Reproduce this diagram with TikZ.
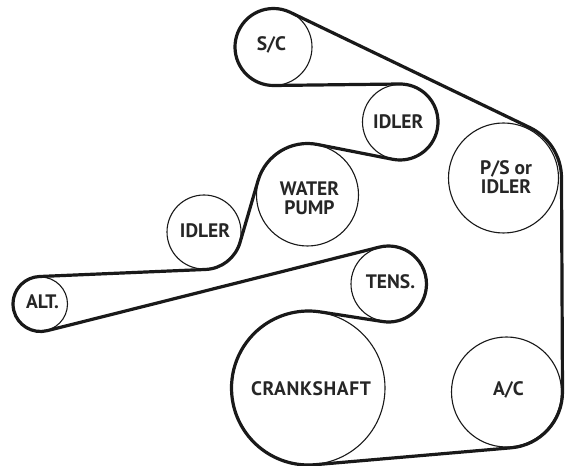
\documentclass[tikz,border=0pt]{standalone}
\usepackage{fontspec}
\setmainfont{PT Sans}
\usetikzlibrary{calc}
\tikzset{
  pulley/.style={circle,draw=black!90,line width=1.1pt,inner sep=0pt},
  plabel/.style={inner sep=0pt,align=center,font=\fontsize{19.5}{19}\selectfont\bfseries,text=black!85},
  belt/.style={draw=black!90,line width=3.2pt,line join=round}
}
% contact angle of the belt run between two pulleys; signed radii: + clockwise, - counter-clockwise
\newcommand\runangle[7]{%
  \pgfmathsetmacro\tmpd{veclen(#4-#1,#5-#2)}%
  \pgfmathsetmacro\tmpn{atan2(#5-#2,#4-#1)+asin((#6-#3)/\tmpd)+90}%
  \expandafter\xdef\csname #7\endcsname{\tmpn}}
\begin{document}
\begin{tikzpicture}[x=1pt,y=1pt]
\useasboundingbox (0,0) rectangle (566,466);
% centre x, centre y (up), signed belt radius
\def\SCx{273.5}\def\SCy{419}\def\SCs{38.5}
\def\PSx{505.5}\def\PSy{288}\def\PSs{56}
\def\ACx{506.5}\def\ACy{74}\def\ACs{56}
\def\CRx{308.5}\def\CRy{78}\def\CRs{77}
\def\TEx{388.5}\def\TEy{182}\def\TEs{-38}
\def\ALx{40.5}\def\ALy{162}\def\ALs{27.5}
\def\IAx{204}\def\IAy{234}\def\IAs{-37.5}
\def\WPx{307.5}\def\WPy{271}\def\WPs{51.5}
\def\IBx{400}\def\IBy{344}\def\IBs{-38}
\node[pulley,minimum size=77pt,label={[plabel,shift={(-2pt,2pt)}]center:S/C}] (sc) at (\SCx,\SCy) {};
\node[pulley,minimum size=110pt,label={[plabel,shift={(2.5pt,1pt)}]center:P/S or\\IDLER}] (ps) at (503.5,288) {};
\coordinate (psb) at (\PSx,\PSy);
\node[pulley,minimum size=110pt,label={[plabel,shift={(2pt,2.5pt)}]center:A/C}] (ac) at (\ACx,\ACy) {};
\node[pulley,minimum size=153pt,label={[plabel,shift={(2.5pt,-1pt)}]center:\addfontfeature{LetterSpace=3}CRANKSHAFT}] (cr) at (\CRx,\CRy) {};
\node[pulley,minimum size=75pt,label={[plabel,shift={(2pt,2pt)}]center:TENS.}] (te) at (\TEx,\TEy) {};
\node[pulley,minimum size=54pt,label={[plabel,shift={(2pt,2.3pt)}]center:ALT.}] (al) at (\ALx,\ALy) {};
\node[pulley,minimum size=74pt,label={[plabel,shift={(1pt,1.5pt)}]center:IDLER}] (ia) at (\IAx,\IAy) {};
\node[pulley,minimum size=102pt,label={[plabel,shift={(2pt,-3.3pt)}]center:WATER\\PUMP}] (wp) at (\WPx,\WPy) {};
\node[pulley,minimum size=75pt,label={[plabel,shift={(-1.7pt,0pt)}]center:IDLER}] (ib) at (\IBx,\IBy) {};
% normal angle of each straight run
\runangle{\SCx}{\SCy}{\SCs}{\PSx}{\PSy}{\PSs}{na}
\runangle{\PSx}{\PSy}{\PSs}{\ACx}{\ACy}{\ACs}{nb}
\runangle{\ACx}{\ACy}{\ACs}{\CRx}{\CRy}{\CRs}{nc}
\runangle{\CRx}{\CRy}{\CRs}{\TEx}{\TEy}{\TEs}{nd}
\runangle{\TEx}{\TEy}{\TEs}{\ALx}{\ALy}{\ALs}{ne}
\runangle{\ALx}{\ALy}{\ALs}{\IAx}{\IAy}{\IAs}{nf}
\runangle{\IAx}{\IAy}{\IAs}{\WPx}{\WPy}{\WPs}{ng}
\runangle{\WPx}{\WPy}{\WPs}{\IBx}{\IBy}{\IBs}{nh}
\runangle{\IBx}{\IBy}{\IBs}{\SCx}{\SCy}{\SCs}{ni}
% each wrap: from angle of incoming run to angle of outgoing run
\pgfmathsetmacro\psE{\na-mod(\na-\nb+720,360)}
\pgfmathsetmacro\acE{\nb-mod(\nb-\nc+720,360)}
\pgfmathsetmacro\crE{\nc-mod(\nc-\nd+720,360)}
\pgfmathsetmacro\teE{\nd+mod(\ne-\nd+720,360)}
\pgfmathsetmacro\alE{\ne-mod(\ne-\nf+720,360)}
\pgfmathsetmacro\iaE{\nf+mod(\ng-\nf+720,360)}
\pgfmathsetmacro\wpE{\ng-mod(\ng-\nh+720,360)}
\pgfmathsetmacro\ibE{\nh+mod(\ni-\nh+720,360)}
\pgfmathsetmacro\scE{\ni-mod(\ni-\na+720,360)}
\draw[belt]
  ($(sc)+(\na:\SCs)$) -- ($(psb)+(\na:\PSs)$)
  arc[start angle=\na,end angle=\psE,radius=\PSs]
  -- ($(ac)+(\nb:\ACs)$)
  arc[start angle=\nb,end angle=\acE,radius=\ACs]
  -- ($(cr)+(\nc:\CRs)$)
  arc[start angle=\nc,end angle=\crE,radius=\CRs]
  -- ($(te)+(\nd+180:-\TEs)$)
  arc[start angle=\nd+180,end angle=\teE+180,radius=-\TEs]
  -- ($(al)+(\ne:\ALs)$)
  arc[start angle=\ne,end angle=\alE,radius=\ALs]
  -- ($(ia)+(\nf+180:-\IAs)$)
  arc[start angle=\nf+180,end angle=\iaE+180,radius=-\IAs]
  -- ($(wp)+(\ng:\WPs)$)
  arc[start angle=\ng,end angle=\wpE,radius=\WPs]
  -- ($(ib)+(\nh+180:-\IBs)$)
  arc[start angle=\nh+180,end angle=\ibE+180,radius=-\IBs]
  -- ($(sc)+(\ni:\SCs)$)
  arc[start angle=\ni,end angle=\scE,radius=\SCs]
  -- cycle;
\end{tikzpicture}
\end{document}
